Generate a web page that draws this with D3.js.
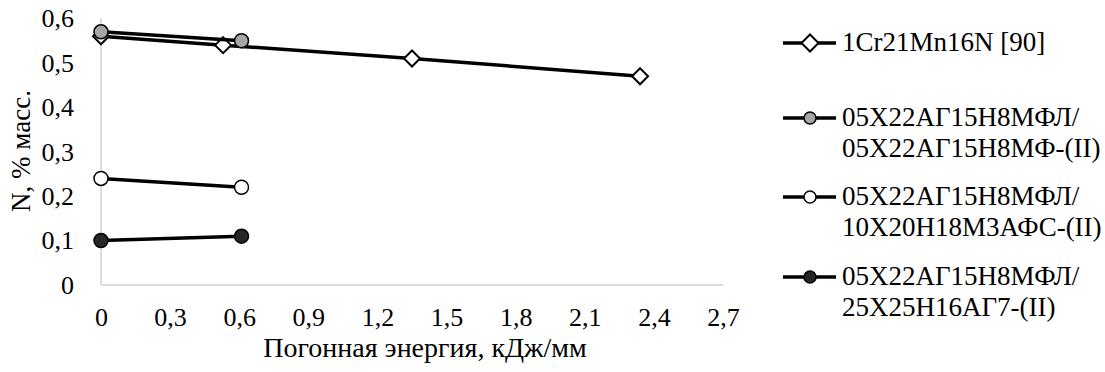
<!DOCTYPE html>
<html><head><meta charset="utf-8">
<script src="https://cdn.jsdelivr.net/npm/d3@7"></script>
<style>body{margin:0;background:#fff}svg{display:block}text{font-family:"Liberation Serif","Times New Roman",serif;fill:#000}</style>
</head><body><svg id="c" width="1105" height="372"></svg>
<script>
const xTicks = [0,0.3,0.6,0.9,1.2,1.5,1.8,2.1,2.4,2.7];
const yTicks = [0,0.1,0.2,0.3,0.4,0.5,0.6];
const s1x = [0,0.53,1.35,2.34], s1y = [0.56,0.54,0.51,0.47];
const s2x = [0,0.61], s2y = [0.57,0.55];
const s3x = [0,0.61], s3y = [0.24,0.22];
const s4x = [0,0.61], s4y = [0.10,0.11];
const names = [["1Cr21Mn16N [90]"],["05Х22АГ15Н8МФЛ/","05Х22АГ15Н8МФ-(II)"],["05Х22АГ15Н8МФЛ/","10Х20Н18М3АФС-(II)"],["05Х22АГ15Н8МФЛ/","25Х25Н16АГ7-(II)"]];
const series = [
 {xs:s1x, ys:s1y, shape:"diamond", fill:"#fff"},
 {xs:s2x, ys:s2y, shape:"circle", fill:"#a6a6a6"},
 {xs:s3x, ys:s3y, shape:"circle", fill:"#fff"},
 {xs:s4x, ys:s4y, shape:"circle", fill:"#262626"}
];
const svg = d3.select("#c");
const x = d3.scaleLinear().domain([0,2.7]).range([101,723]);
const y = d3.scaleLinear().domain([0,0.6]).range([285,18.5]);
const fmt = d => String(+d.toFixed(1)).replace(".",",");
const FS = 26, LFS = 27;
svg.append("line").attr("x1",101).attr("x2",723).attr("y1",285).attr("y2",285).attr("stroke","#d0d0d0").attr("stroke-width",1.5);
svg.append("line").attr("x1",101).attr("x2",101).attr("y1",285).attr("y2",y(0.6)).attr("stroke","#d0d0d0").attr("stroke-width",1.5);
const xa = svg.append("g").attr("transform","translate(0,285)").call(d3.axisBottom(x).tickValues(xTicks).tickFormat(fmt).tickSize(0).tickPadding(23));
xa.select(".domain").remove();
xa.selectAll("text").attr("font-size",FS);
const ya = svg.append("g").attr("transform","translate(101,0)").call(d3.axisLeft(y).tickValues(yTicks).tickFormat(fmt).tickSize(0).tickPadding(27));
ya.select(".domain").remove();
ya.selectAll("text").attr("font-size",FS);
svg.append("text").attr("x",425).attr("y",357).attr("text-anchor","middle").attr("font-size",28).text("Погонная энергия, кДж/мм");
svg.append("text").attr("transform","translate(30,151) rotate(-90)").attr("text-anchor","middle").attr("font-size",LFS).text("N, % масс.");
const line = d3.line();
function marker(g, shape, fill, cx, cy, r){
  if(shape==="diamond"){
    g.append("path").attr("d",`M${cx},${cy-r}L${cx+r},${cy}L${cx},${cy+r}L${cx-r},${cy}Z`).attr("fill",fill).attr("stroke","#000").attr("stroke-width",2);
  } else {
    g.append("circle").attr("cx",cx).attr("cy",cy).attr("r",r).attr("fill",fill).attr("stroke","#000").attr("stroke-width",1.5);
  }
}
const order = [0,3,2,1];
order.forEach(i=>{
  const s = series[i];
  const pts = s.xs.map((v,j)=>[x(v),y(s.ys[j])]);
  svg.append("path").attr("d",line(pts)).attr("fill","none").attr("stroke","#000").attr("stroke-width",3.5);
  const g = svg.append("g");
  pts.forEach(p=>marker(g,s.shape,s.fill,p[0],p[1],s.shape==="diamond"?8:7));
});
const legY = [43,118,197,277];
series.forEach((s,i)=>{
  const g = svg.append("g");
  g.append("line").attr("x1",783).attr("x2",836).attr("y1",legY[i]).attr("y2",legY[i]).attr("stroke","#000").attr("stroke-width",3.5);
  marker(g,s.shape,s.fill,810,legY[i],s.shape==="diamond"?8.5:6);
  names[i].forEach((t,k)=>{
    g.append("text").attr("x",842).attr("y",legY[i]+8+k*31).attr("font-size",LFS).text(t);
  });
});
</script></body></html>
